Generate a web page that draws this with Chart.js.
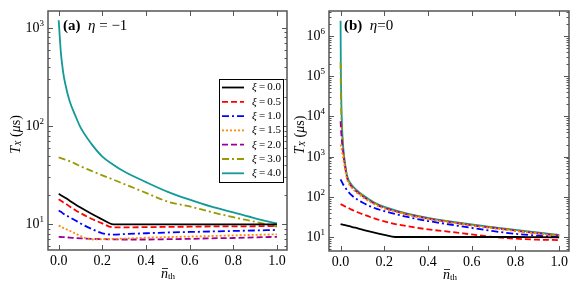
<!DOCTYPE html>
<html>
<head>
<meta charset="utf-8">
<script src="https://cdn.jsdelivr.net/npm/chart.js@4.4.0/dist/chart.umd.min.js"></script>
<style>
  body { margin: 0; background: #fff; }
  canvas { position: absolute; top: 0; }
</style>
</head>
<body>
<canvas id="a" width="290" height="291" style="left:0"></canvas>
<canvas id="b" width="291" height="291" style="left:290px"></canvas>
<script>
// legend entries and line styles
const xiLabels = ["0.0", "0.5", "1.0", "1.5", "2.0", "3.0", "4.0"]
const colors = ["#000000", "#ff0000", "#0000ff", "#ff8c00", "#990099", "#999900", "#129a96"]
const dashes = [[], [6, 3], [7, 3, 2, 3], [2, 2], [6, 3], [7, 3, 2, 3], []]
const xTicks = [0, 0.2, 0.4, 0.6, 0.8, 1.0]

// panel (a), eta = -1
const nthA = [0, 0.01, 0.02, 0.03, 0.05, 0.075, 0.1, 0.15, 0.2, 0.25, 0.3, 0.4, 0.5, 0.6, 0.7, 0.8, 0.9, 1.0]
const a00 = [20.4, 19.8, 19.2, 18.6, 17.4, 16.0, 14.8, 12.8, 11.2, 10, 10, 10, 10, 10, 10, 10, 10, 10]
const a05 = [18, 17.4, 16.8, 16.3, 15.2, 14.0, 13.0, 11.4, 10.2, 9.3, 9.3, 9.35, 9.4, 9.45, 9.5, 9.5, 9.55, 9.6]
const a10 = [13.8, 13.4, 12.9, 12.5, 11.8, 11.0, 10.2, 9.0, 8.1, 7.85, 7.95, 8.1, 8.25, 8.35, 8.45, 8.55, 8.65, 8.75]
const a15 = [9.7, 9.5, 9.2, 9.0, 8.6, 8.1, 7.6, 7.0, 7.05, 7.1, 7.15, 7.3, 7.4, 7.5, 7.6, 7.7, 7.8, 7.9]
const a20 = [7.45, 7.42, 7.4, 7.37, 7.32, 7.26, 7.2, 7.1, 7.05, 7.02, 7.0, 7.0, 7.05, 7.1, 7.2, 7.25, 7.35, 7.45]
const a30 = [48, 47.2, 46.4, 45.6, 44, 41.5, 39, 35, 31.5, 28.5, 25.7, 20.9, 17.0, 15.2, 13.3, 11.8, 10.6, 9.45]
const a40 = [1200, 560, 360, 270, 180, 130, 97, 66, 49, 40.5, 34.5, 26.9, 21.4, 17.8, 15.1, 13.2, 11.5, 10.2]

// panel (b), eta = 0
const nthB = [0, 0.001, 0.002, 0.004, 0.007, 0.01, 0.015, 0.02, 0.03, 0.05, 0.075, 0.1, 0.15, 0.2, 0.25, 0.3, 0.4, 0.5, 0.6, 0.7, 0.8, 0.9, 1.0]
const b00 = [21, 20.9, 20.8, 20.7, 20.5, 20.3, 20.0, 19.7, 19.1, 18.0, 16.6, 15.3, 13.0, 11.3, 10, 10, 10, 10, 10, 10, 10, 9.9, 9.8]
const b05 = [66, 65.6, 65.2, 64.4, 63, 62, 60, 58, 55, 48, 42, 37, 29.5, 24.5, 21, 18.8, 15.5, 13.5, 11.6, 10.0, 9.1, 8.6, 8.4]
const b10 = [272, 265, 258, 245, 228, 212, 190, 172, 145, 110, 87, 72, 54, 44, 37.5, 32, 25, 20.5, 16.8, 14, 12, 10.8, 9.9]
const b15 = [2000, 1900, 1800, 1600, 1300, 1050, 720, 500, 270, 170, 126, 99, 67, 51, 42.5, 36, 28, 23, 19.2, 16.4, 14.1, 12.2, 10.5]
const b20 = [7600, 6000, 4800, 3300, 2200, 1500, 900, 580, 295, 182, 134, 104, 70, 53, 44, 37.2, 28.7, 23.5, 19.6, 16.8, 14.4, 12.4, 10.8]
const b30 = [220000, 60000, 25000, 9000, 3800, 2000, 1050, 650, 315, 192, 140, 108, 72, 54.5, 45, 38, 29.3, 24, 20, 17.1, 14.7, 12.7, 11.0]
const b40 = [2400000, 200000, 60000, 16000, 5000, 2400, 1150, 700, 330, 200, 145, 112, 74, 56, 46, 39, 30, 24.5, 20.5, 17.5, 15, 13, 11.3]

const serif = '"Liberation Serif", "Times New Roman", serif'

// draw a row of text pieces, each {t, f, dy}
function pieces(ctx, parts, x, y, align) {
  let w = 0
  parts.forEach(p => { ctx.font = p.f; p.w = ctx.measureText(p.t).width; w += p.w })
  let cx = align === "right" ? x - w : align === "center" ? x - w / 2 : x
  parts.forEach(p => {
    ctx.font = p.f
    ctx.fillText(p.t, cx, y + (p.dy || 0))
    cx += p.w
  })
  return w
}

const axesPlugin = {
  id: "axesPlugin",
  afterDatasetsDraw(chart, args, opts) {
    const { ctx, chartArea: a, scales: { x, y } } = chart
    ctx.save()
    ctx.fillStyle = "#000"
    ctx.textBaseline = "middle"

    // frame
    ctx.strokeStyle = "#555"
    ctx.lineWidth = 1.5
    ctx.strokeRect(a.left, a.top, a.right - a.left, a.bottom - a.top)

    // ticks
    ctx.lineWidth = 1
    ctx.beginPath()
    xTicks.forEach(v => {
      const px = Math.round(x.getPixelForValue(v)) + 0.5
      ctx.moveTo(px, a.bottom); ctx.lineTo(px, a.bottom - 5)
      ctx.moveTo(px, a.top); ctx.lineTo(px, a.top + 5)
    })
    const e0 = Math.floor(Math.log10(y.min)), e1 = Math.ceil(Math.log10(y.max))
    const majors = []
    for (let e = e0; e <= e1; e++) {
      for (let m = 1; m <= 9; m++) {
        const v = m * Math.pow(10, e)
        if (v < y.min || v > y.max) continue
        const py = Math.round(y.getPixelForValue(v)) + 0.5
        const len = m === 1 ? 5 : 2.5
        if (m === 1) majors.push([e, py])
        ctx.moveTo(a.left, py); ctx.lineTo(a.left + len, py)
        ctx.moveTo(a.right, py); ctx.lineTo(a.right - len, py)
      }
    }
    ctx.stroke()

    // tick labels
    ctx.textAlign = "left"
    xTicks.forEach(v => {
      pieces(ctx, [{ t: v.toFixed(1), f: "14px " + serif }], x.getPixelForValue(v), a.bottom + 11, "center")
    })
    majors.forEach(([e, py]) => {
      pieces(ctx, [{ t: "10", f: "14px " + serif }, { t: String(e), f: "9px " + serif, dy: -5 }], a.left - 4, py, "right")
    })

    // x title
    const xc = opts.xTitleX
    const nW = pieces(ctx, [{ t: "n", f: "italic 14px " + serif }], xc - 6, a.bottom + 24, "left")
    ctx.beginPath()
    ctx.moveTo(xc - 5, a.bottom + 18.5); ctx.lineTo(xc - 6 + nW, a.bottom + 18.5)
    ctx.lineWidth = 0.8; ctx.strokeStyle = "#000"; ctx.stroke()
    pieces(ctx, [{ t: "th", f: "9px " + serif }], xc - 6 + nW, a.bottom + 27, "left")

    // y title
    ctx.save()
    ctx.translate(opts.yTitleX, (a.top + a.bottom) / 2 + 4)
    ctx.rotate(-Math.PI / 2)
    pieces(ctx, [
      { t: "T", f: "italic 14px " + serif },
      { t: "X", f: "italic 9px " + serif, dy: 3 },
      { t: " (", f: "14px " + serif },
      { t: "\u03bc", f: "italic 14px " + serif },
      { t: "s)", f: "14px " + serif }
    ], 0, 0, "center")
    ctx.restore()

    // panel label
    pieces(ctx, [
      { t: opts.tag, f: "bold 15px " + serif },
      { t: "  ", f: "15px " + serif },
      { t: "\u03b7", f: "italic 15px " + serif },
      { t: opts.eta, f: "15px " + serif }
    ], a.left + 15, a.top + 15, "left")

    // legend
    if (opts.legend) {
      const L = opts.legend
      ctx.fillStyle = "#fff"
      ctx.fillRect(L.x, L.y, L.w, L.h)
      ctx.strokeStyle = "#000"; ctx.lineWidth = 1
      ctx.strokeRect(L.x + 0.5, L.y + 0.5, L.w, L.h)
      chart.data.datasets.forEach((ds, i) => {
        const ly = L.y + 8.5 + i * 14.3
        ctx.beginPath()
        ctx.setLineDash(ds.borderDash)
        ctx.strokeStyle = ds.borderColor; ctx.lineWidth = 1.8
        ctx.moveTo(L.x + 3, ly); ctx.lineTo(L.x + 25, ly)
        ctx.stroke()
        ctx.setLineDash([])
        ctx.fillStyle = "#000"
        pieces(ctx, [
          { t: "\u03be", f: "italic 11px " + serif },
          { t: "\u2009=\u2009" + ds.label, f: "11px " + serif }
        ], L.x + 33, ly, "left")
      })
    }
    ctx.restore()
  }
}

function makeChart(id, nth, series, ranges, pad, axisW, axisH, opts) {
  return new Chart(document.getElementById(id), {
    type: "line",
    data: {
      datasets: series.map((s, i) => ({
        label: xiLabels[i],
        data: s.map((v, j) => ({ x: nth[j], y: v })),
        borderColor: colors[i],
        borderDash: dashes[i],
        borderWidth: 1.8,
        pointRadius: 0,
        cubicInterpolationMode: "monotone",
        fill: false
      }))
    },
    options: {
      responsive: false,
      animation: false,
      devicePixelRatio: 1,
      layout: { padding: pad },
      plugins: { legend: { display: false }, tooltip: { enabled: false }, axesPlugin: opts },
      scales: {
        x: {
          type: "linear", min: ranges[0], max: ranges[1],
          ticks: { display: false }, grid: { display: false }, border: { display: false },
          afterFit: s => { s.height = axisH }
        },
        y: {
          type: "logarithmic", min: ranges[2], max: ranges[3],
          ticks: { display: false }, grid: { display: false }, border: { display: false },
          afterFit: s => { s.width = axisW }
        }
      }
    },
    plugins: [axesPlugin]
  })
}

makeChart("a", nthA, [a00, a05, a10, a15, a20, a30, a40], [-0.049, 1.046, 5.47, 1489],
  { left: 0, right: 3, top: 11, bottom: 0 }, 48, 41,
  { tag: "(a)", eta: " = \u22121", xTitleX: 167, yTitleX: 16, legend: { x: 219, y: 79, w: 64, h: 103 } })

makeChart("b", nthB, [b00, b05, b10, b15, b20, b30, b40], [-0.053, 1.045, 4.49, 4.19e6],
  { left: 0, right: 12, top: 11, bottom: 0 }, 39, 40,
  { tag: "(b)", eta: "=0", xTitleX: 159, yTitleX: 10 })
</script>
</body>
</html>
